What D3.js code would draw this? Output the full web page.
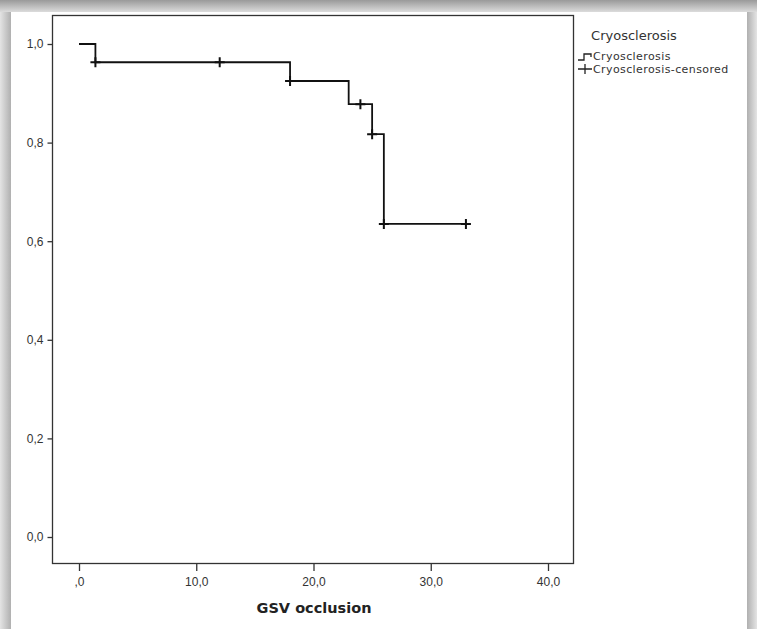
<!DOCTYPE html>
<html>
<head>
<meta charset="utf-8">
<script src="https://cdn.jsdelivr.net/npm/d3@7"></script>
<style>
  body { margin: 0; background: #fff; }
  svg { display: block; font-family: "DejaVu Sans", Verdana, sans-serif; }
</style>
</head>
<body>
<svg width="757" height="629"></svg>
<script>
// Kaplan-Meier steps
var stepTimes = [0, 1.4, 18, 23, 25, 26, 33];
var stepSurvival = [1.0, 0.963, 0.925, 0.878, 0.817, 0.635, 0.635];
var censorTimes = [1.4, 12, 18, 24, 25, 26, 33];
var censorSurvival = [0.963, 0.963, 0.925, 0.878, 0.817, 0.635, 0.635];
var xTicks = [0, 10, 20, 30, 40];
var xTickLabels = [',0', '10,0', '20,0', '30,0', '40,0'];
var yTicks = [0, 0.2, 0.4, 0.6, 0.8, 1.0];
var yTickLabels = ['0,0', '0,2', '0,4', '0,6', '0,8', '1,0'];
var legendLabels = ['Cryosclerosis', 'Cryosclerosis-censored'];

var svg = d3.select('svg');

// shadow frame round the white panel
var defs = svg.append('defs');
var gTop = defs.append('linearGradient').attr('id', 'gTop').attr('x1', 0).attr('y1', 0).attr('x2', 0).attr('y2', 1);
gTop.append('stop').attr('offset', '0%').attr('stop-color', '#9a9a9a');
gTop.append('stop').attr('offset', '100%').attr('stop-color', '#dcdcdc');
var gLeft = defs.append('linearGradient').attr('id', 'gLeft').attr('x1', 0).attr('y1', 0).attr('x2', 1).attr('y2', 0);
gLeft.append('stop').attr('offset', '0%').attr('stop-color', '#e4e4e4');
gLeft.append('stop').attr('offset', '100%').attr('stop-color', '#b0b0b0');
var gRight = defs.append('linearGradient').attr('id', 'gRight').attr('x1', 0).attr('y1', 0).attr('x2', 1).attr('y2', 0);
gRight.append('stop').attr('offset', '0%').attr('stop-color', '#b0b0b0');
gRight.append('stop').attr('offset', '100%').attr('stop-color', '#e4e4e4');

svg.append('rect').attr('x', 0).attr('y', 0).attr('width', 757).attr('height', 629).attr('fill', '#fff');
svg.append('rect').attr('x', 0).attr('y', 0).attr('width', 11).attr('height', 629).attr('fill', 'url(#gLeft)');
svg.append('rect').attr('x', 747).attr('y', 0).attr('width', 10).attr('height', 629).attr('fill', 'url(#gRight)');
svg.append('rect').attr('x', 0).attr('y', 0).attr('width', 757).attr('height', 12).attr('fill', 'url(#gTop)');

var x = d3.scaleLinear().domain([0, 40]).range([79, 548]);
var y = d3.scaleLinear().domain([0, 1]).range([537, 44]);

// plot frame
svg.append('rect')
    .attr('x', 52.5).attr('y', 15.5)
    .attr('width', 521).attr('height', 548)
    .attr('fill', 'none')
    .attr('stroke', '#333')
    .attr('stroke-width', 1.3);

// y axis
var yAxis = d3.axisLeft(y)
    .tickValues(yTicks)
    .tickSize(5)
    .tickPadding(4)
    .tickFormat(function(d, i){
        return yTickLabels[i]
    });
var gy = svg.append('g').attr('transform', 'translate(52.5,0)').call(yAxis);
gy.select('.domain').remove();
gy.selectAll('line').attr('stroke', '#333').attr('stroke-width', 1.3);
gy.selectAll('text').attr('font-size', 12).attr('fill', '#333');

// x axis
var xAxis = d3.axisBottom(x)
    .tickValues(xTicks)
    .tickSize(7)
    .tickPadding(6)
    .tickFormat(function(d, i){
        return xTickLabels[i]
    });
var gx = svg.append('g').attr('transform', 'translate(0,564)').call(xAxis);
gx.select('.domain').remove();
gx.selectAll('line').attr('stroke', '#333').attr('stroke-width', 1.3);
gx.selectAll('text').attr('font-size', 12).attr('fill', '#333');

svg.append('text')
    .attr('x', 314).attr('y', 613)
    .attr('text-anchor', 'middle')
    .attr('font-size', 14.5)
    .attr('font-weight', 'bold')
    .attr('fill', '#222')
    .text('GSV occlusion');

// survival step line
var steps = stepTimes.map(function(t, i){
    return [t, stepSurvival[i]]
});
var line = d3.line()
    .x(function(d){ return x(d[0]) })
    .y(function(d){ return y(d[1]) })
    .curve(d3.curveStepAfter);
svg.append('path')
    .datum(steps)
    .attr('d', line)
    .attr('fill', 'none')
    .attr('stroke', '#111')
    .attr('stroke-width', 1.8);

// censor marks
var censors = censorTimes.map(function(t, i){
    return [t, censorSurvival[i]]
});
svg.selectAll('path.censor')
    .data(censors)
    .enter()
    .append('path')
    .attr('class', 'censor')
    .attr('d', function(d){
        var cx = x(d[0]), cy = y(d[1]);
        return 'M' + (cx - 5) + ',' + cy + 'H' + (cx + 5) + 'M' + cx + ',' + (cy - 5) + 'V' + (cy + 5)
    })
    .attr('stroke', '#111')
    .attr('stroke-width', 2);

// legend
svg.append('text')
    .attr('x', 634).attr('y', 40)
    .attr('text-anchor', 'middle')
    .attr('font-size', 13)
    .attr('fill', '#333')
    .text('Cryosclerosis');

svg.append('path')
    .attr('d', 'M578,60H584V54H591V57')
    .attr('fill', 'none')
    .attr('stroke', '#222')
    .attr('stroke-width', 1.3);
svg.append('path')
    .attr('d', 'M578,69H592M585,64V74')
    .attr('stroke', '#222')
    .attr('stroke-width', 1.3);

svg.selectAll('text.legend')
    .data(legendLabels)
    .enter()
    .append('text')
    .attr('class', 'legend')
    .attr('x', 593)
    .attr('y', function(d, i){
        return 60 + i * 13
    })
    .attr('font-size', 11)
    .attr('letter-spacing', 0.4)
    .attr('fill', '#333')
    .text(function(d){
        return d
    });
</script>
</body>
</html>
